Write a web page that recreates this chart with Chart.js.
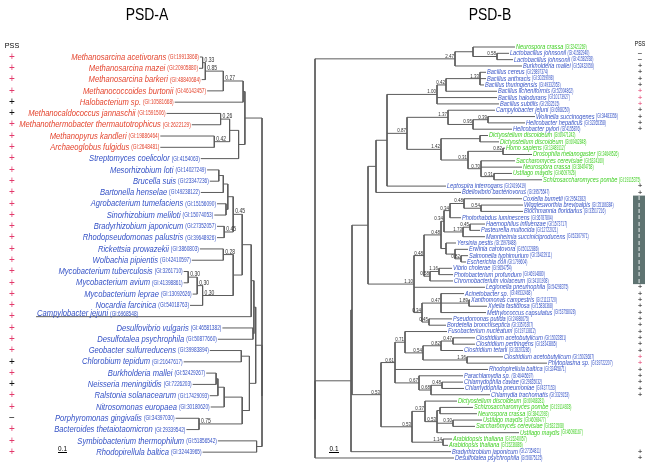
<!DOCTYPE html>
<html>
<head>
<meta charset="utf-8">
<script src="https://cdn.jsdelivr.net/npm/chart.js@4"></script>
<style>html,body{margin:0;padding:0;background:#fff}</style>
</head>
<body>
<canvas id="myChart" width="648" height="465" style="width:648px;height:465px"></canvas>
<script>
// ---- PSD-A (left tree) ----
const leftNames = [
    'Methanosarcina acetivorans', 'Methanosarcina mazei', 'Methanosarcina barkeri',
    'Methanococcoides burtonii', 'Halobacterium sp.', 'Methanocaldococcus jannaschii',
    'Methanothermobacter thermautotrophicus', 'Methanopyrus kandleri', 'Archaeoglobus fulgidus',
    'Streptomyces coelicolor', 'Mesorhizobium loti', 'Brucella suis', 'Bartonella henselae',
    'Agrobacterium tumefaciens', 'Sinorhizobium meliloti', 'Bradyrhizobium japonicum',
    'Rhodopseudomonas palustris', 'Rickettsia prowazekii', 'Wolbachia pipientis',
    'Mycobacterium tuberculosis', 'Mycobacterium avium', 'Mycobacterium leprae',
    'Nocardia farcinica', 'Campylobacter jejuni', 'Desulfovibrio vulgaris',
    'Desulfotalea psychrophila', 'Geobacter sulfurreducens', 'Chlorobium tepidum',
    'Burkholderia mallei', 'Neisseria meningitidis', 'Ralstonia solanacearum',
    'Nitrosomonas europaea', 'Porphyromonas gingivalis', 'Bacteroides thetaiotaomicron',
    'Symbiobacterium thermophilum', 'Rhodopirellula baltica'
];
const leftGI = [
    '19913868', '20905880', '48840684', '46142457', '10581668', '1591506', '2622129',
    '19886464', '2648481', '4154063', '14027249', '23347236', '49238122', '15156090',
    '15074053', '27352057', '39648926', '3860803', '42410597', '3261710', '41398861',
    '13092626', '54018763', '6968548', '46581382', '50877660', '39983894', '21647617',
    '52429267', '7226203', '17429093', '30180620', '34397030', '29339542', '51856542',
    '32443965'
];
// A = archaea (red), B = bacteria (blue)
const leftDomain = ['A','A','A','A','A','A','A','A','A','B','B','B','B','B','B','B','B','B',
    'B','B','B','B','B','B','B','B','B','B','B','B','B','B','B','B','B','B'];
// R = red plus, K = black plus, M = minus
const leftPss = ['R','R','R','R','K','K','R','R','R','R','R','R','R','R','R','R','R','R',
    'R','R','R','R','R','R','R','R','R','K','R','K','R','R','M','R','R','R'];
// tip distance from root
const leftTip = [0.69, 0.70, 0.67, 0.61, 0.97, 1.06, 0.78, 1.13, 1.13, 0.68, 0.61, 0.58,
    0.68, 0.50, 0.53, 0.50, 0.50, 0.69, 0.78, 0.87, 0.87, 0.77, 0.80, 2.51, 0.44, 0.49,
    0.58, 0.87, 0.62, 0.77, 0.58, 0.57, 0.96, 0.84, 0.49, 0.66];
const leftLabelAbove = [23];
// newick-like: (children)support:depth from root, leaves are row numbers
const leftTree =
    '((((((0,1)0.33:0.66,2)0.85:0.63,3)0.27:0.43,4):0.21,' +
    '(((5,6)0.26:0.46,(7,8)0.42:0.53):0.36,9):0.26):0.19,' +
    '((((((((((10,11):0.48,12):0.43,(13,14):0.40):0.38,(15,16)0.45:0.42)0.45:0.32,' +
    '((17,18)0.28:0.43,(((19,20)0.30:0.82,21)0.30:0.72,22)0.30:0.66):0.32):0.22,23):0.12,' +
    '(24,25):0.10):0.09,' +
    '((26,27):0.23,((((28,29):0.51,30):0.49,31):0.42,(32,33)0.75:0.70):0.22):0.14):0.07,' +
    '(34,35):0.06):0):0';

// ---- PSD-B (right tree) ----
const rightNames = [
    'Neurospora crassa', 'Lactobacillus johnsonii', 'Lactobacillus johnsonii',
    'Burkholderia mallei', 'Bacillus cereus', 'Bacillus anthracis', 'Bacillus thuringiensis',
    'Bacillus licheniformis', 'Bacillus halodurans', 'Bacillus subtilis', 'Campylobacter jejuni',
    'Wolinella succinogenes', 'Helicobacter hepaticus', 'Helicobacter pylori',
    'Dictyostelium discoideum', 'Dictyostelium discoideum', 'Homo sapiens',
    'Drosophila melanogaster', 'Saccharomyces cerevisiae', 'Neurospora crassa',
    'Ustilago maydis', 'Schizosaccharomyces pombe', 'Leptospira interrogans',
    'Bdellovibrio bacteriovorus', 'Coxiella burnetii', 'Wigglesworthia brevipalpis',
    'Blochmannia floridanus', 'Photorhabdus luminescens', 'Haemophilus influenzae',
    'Pasteurella multocida', 'Mannheimia succiniciproducens', 'Yersinia pestis',
    'Erwinia carotovora', 'Salmonella typhimurium', 'Escherichia coli', 'Vibrio cholerae',
    'Photobacterium profundum', 'Chromobacterium violaceum', 'Legionella pneumophila',
    'Acinetobacter sp.', 'Xanthomonas campestris', 'Xylella fastidiosa',
    'Methylococcus capsulatus', 'Pseudomonas putida', 'Bordetella bronchiseptica',
    'Fusobacterium nucleatum', 'Clostridium acetobutylicum', 'Clostridium perfringens',
    'Clostridium tetani', 'Clostridium acetobutylicum', 'Phytoplasma sp.',
    'Rhodopirellula baltica', 'Parachlamydia sp.', 'Chlamydophila caviae',
    'Chlamydophila pneumoniae', 'Chlamydia trachomatis', 'Dictyostelium discoideum',
    'Schizosaccharomyces pombe', 'Neurospora crassa', 'Ustilago maydis',
    'Saccharomyces cerevisiae', 'Ustilago maydis', 'Arabidopsis thaliana',
    'Arabidopsis thaliana', 'Bradyrhizobium japonicum', 'Desulfotalea psychrophila'
];
const rightGI = [
    '32421269', '41582940', '41582938', '52432056', '29897374', '30259098', '49332053',
    '52004862', '10173927', '2632515', '6968250', '34483356', '32265358', '4155876',
    '60471242', '60462848', '13489112', '24649526', '6324160', '38404768', '46097926',
    '19115375', '24196419', '39575547', '29542382', '25166384', '33517216', '36787804',
    '1573717', '12722021', '52307971', '15978488', '50122886', '16422911', '1799604',
    '9654754', '46914880', '34101908', '54298375', '49532468', '21113720', '15836368',
    '53758028', '24986675', '33576307', '19713812', '15022851', '18143865', '28203286',
    '15023687', '39722207', '32445871', '46445697', '29835032', '4377153', '3329153',
    '60468281', '19114928', '38412093', '46098477', '6321508', '46098167', '15240057',
    '15236886', '27354811', '50875125'
];
// E = eukaryote (green), B = bacteria (blue)
const rightDomain = ['E','B','B','B','B','B','B','B','B','B','B','B','B','B',
    'E','E','E','E','E','E','E','E','B','B','B','B','B','B','B','B','B','B','B','B','B',
    'B','B','B','B','B','B','B','B','B','B','B','B','B','B','B','B','B','B','B','B','B',
    'E','E','E','E','E','E','E','E','B','B'];
// I = boxed group
const rightPss = ['','M','M','K','K','K','K','R','R','R','K','K','K','K',
    '','','','','','','','','K','K','I','I','I','I','I','I','I','I','I','I','I','I','I',
    'I','K','K','K','K','K','K','K','K','K','K','K','R','R','K','K','K','K','K',
    '','','','','','','','','K','K'];
const rightTip = [2.00, 1.94, 1.98, 2.07, 1.71, 1.71, 1.69, 1.82, 1.82, 1.84, 1.80, 2.20,
    2.10, 1.97, 1.73, 1.84, 1.90, 2.17, 2.00, 2.07, 1.97, 2.27, 1.31, 1.46, 2.07, 2.08,
    2.08, 1.46, 1.70, 1.65, 1.70, 1.41, 1.53, 1.53, 1.51, 1.37, 1.38, 1.38, 1.70, 1.49,
    1.55, 1.72, 1.71, 1.37, 1.31, 1.32, 1.60, 1.60, 1.48, 1.88, 2.32, 1.73, 1.48, 1.48,
    1.49, 1.75, 1.42, 1.58, 1.62, 1.67, 1.60, 2.04, 1.37, 1.33, 1.36, 1.39];
const rightTree =
    '((((0,(1,2)0.58:1.82):1.58,3)2.47:1.40,' +
    '(((((((((((4,5,6)1.33:1.65,7)0.42:1.31,8,9)1.00:1.22,' +
    '((10,((11,12)0.39:1.73,13)0.95:1.58)1.37:1.33,' +
    '((14,15):1.65,((16,17)0.82:1.88,(18,19,(20,21)0.31:1.79)0.70:1.66)0.31:1.53)1.42:1.26)0.87:0.92,' +
    '22):0.72,23):0.61,' +
    '((((((24,(25,26)0.54:1.66)0.48:1.49,27)0.34:1.35,((28,29)0.45:1.55,30)1.73:1.48)0.34:1.29,' +
    '(31,(32,(33,34)0.82:1.46):1.40):1.31)0.48:1.26,((35,36)1.16:1.24,37)0.58:1.15)0.48:1.09,' +
    '38,((39,(40,41)1.89:1.54,42)0.47:1.26,(43,44)0.45:1.14)0.34:1.07)1.10:0.99):0.53,' +
    '(((45,(((46,47)0.47:1.38,48)0.82:1.26,(49,50)1.36:1.52)0.54:1.08)0.71:0.90,51,' +
    '(52,((53,54)0.48:1.27,55)0.68:1.16)0.67:1.04)0.61:0.80,' +
    '((56,((57,58):1.25,(59,60)0.30:1.38,61)0.53:1.22)0.37:1.10,(62,63)1.14:1.28)0.53:0.97)0.53:0.66' +
    '):0.37,64):0.36,65):0):0';

const scaleBar = 0.1;

// ---- layout ----
const W = 648, H = 465;
const LT = { rootPx: 262, pxPerUnit: 90, rowTop: 57, rowStep: 11.29 };
const RT = { rootPx: 315, pxPerUnit: 100, rowTop: 47, rowStep: 6.323 };
const colors = { A: '#e4452f', B: '#3552c6', E: '#3fcf22', R: '#e3396b', K: '#111', M: '#111' };
const lineColor = '#5c5c5c';

function parseTree(s) {
    let i = 0;
    function node() {
        if (s[i] === '(') {
            i++;
            const kids = [node()];
            while (s[i] === ',') { i++; kids.push(node()); }
            i++;
            let label = '';
            while (i < s.length && /[0-9.]/.test(s[i])) label += s[i++];
            let num = '';
            if (s[i] === ':') { i++; while (i < s.length && /[0-9.]/.test(s[i])) num += s[i++]; }
            return { kids: kids, label: label, depth: parseFloat(num) || 0 };
        }
        let num = '';
        while (i < s.length && /[0-9]/.test(s[i])) num += s[i++];
        return { leaf: parseInt(num, 10) };
    }
    return node();
}

function layout(n, tips, inner) {
    if (n.kids === undefined) { n.x = tips[n.leaf]; n.y = n.leaf; return n; }
    n.kids.forEach(k => layout(k, tips, inner));
    const ys = n.kids.map(k => k.y);
    n.x = n.depth;
    n.y = (Math.min(...ys) + Math.max(...ys)) / 2;
    inner.push(n);
    return n;
}

function branchPoints(inner) {
    const pts = [];
    inner.forEach(n => {
        const ys = n.kids.map(k => k.y);
        pts.push({ x: n.x, y: Math.min(...ys) }, { x: n.x, y: Math.max(...ys) }, { x: n.x, y: null });
        n.kids.forEach(k => {
            pts.push({ x: k.x, y: k.y }, { x: n.x, y: k.y }, { x: n.x, y: null });
        });
    });
    return pts;
}

const leftInner = [];
layout(parseTree(leftTree), leftTip, leftInner);
const rightInner = [];
layout(parseTree(rightTree), rightTip, rightInner);

function txt(ctx, str, x, y, font, color, align, sx, base) {
    ctx.save();
    ctx.font = font;
    ctx.fillStyle = color;
    ctx.textBaseline = base || 'middle';
    ctx.textAlign = 'left';
    const w = ctx.measureText(str).width * sx;
    const x0 = align === 'right' ? x - w : (align === 'center' ? x - w / 2 : x);
    ctx.translate(x0, y);
    ctx.scale(sx, 1);
    ctx.fillText(str, 0, 0);
    ctx.restore();
    return w;
}

const treeText = {
    id: 'treeText',
    afterDatasetsDraw(chart) {
        const ctx = chart.ctx;
        const xL = chart.scales.xL, yL = chart.scales.yL, xR = chart.scales.xR, yR = chart.scales.yR;
        const sans = '"Liberation Sans", Arial, sans-serif';

        // titles and headers
        txt(ctx, 'PSD-A', 147, 15, '17px ' + sans, '#000', 'center', 0.82);
        txt(ctx, 'PSD-B', 490, 15, '17px ' + sans, '#000', 'center', 0.82);
        txt(ctx, 'PSS', 12, 46, '8px ' + sans, '#000', 'center', 0.9);
        txt(ctx, 'PSS', 640, 44, '6.5px ' + sans, '#000', 'center', 0.8);

        // left leaves
        leftNames.forEach((name, i) => {
            const px = xL.getPixelForValue(leftTip[i]);
            const py = yL.getPixelForValue(i);
            const c = colors[leftDomain[i]];
            const gi = '(GI:' + leftGI[i] + ')';
            if (leftLabelAbove.includes(i)) {
                const w = txt(ctx, name, px + 1, py - 1, 'italic 9.5px ' + sans, c, 'left', 0.8, 'alphabetic');
                txt(ctx, gi, px + 1 + w + 2, py - 1, '7px ' + sans, c, 'left', 0.68, 'alphabetic');
            } else {
                const wg = txt(ctx, gi, px - 1, py, '7px ' + sans, c, 'right', 0.68);
                txt(ctx, name, px - 1 - wg - 2, py, 'italic 9.5px ' + sans, c, 'right', 0.8);
            }
            const s = leftPss[i];
            if (s) txt(ctx, s === 'M' ? '\u2212' : '+', 12, py, '10px ' + sans, colors[s], 'center', 1);
        });
        leftInner.forEach(n => {
            if (n.label) txt(ctx, n.label, xL.getPixelForValue(n.x) + 2, yL.getPixelForValue(n.y) - 1,
                '7px ' + sans, '#333', 'left', 0.72, 'alphabetic');
        });

        // right leaves
        rightNames.forEach((name, i) => {
            const px = xR.getPixelForValue(rightTip[i]) + 1;
            const py = yR.getPixelForValue(i);
            const c = colors[rightDomain[i]];
            const w = txt(ctx, name, px, py, 'italic 7px ' + sans, c, 'left', 0.8);
            txt(ctx, '(GI:' + rightGI[i] + ')', px + w + 1.5, py, '6.5px ' + sans, c, 'left', 0.52);
        });
        rightInner.forEach(n => {
            if (n.label) txt(ctx, n.label, xR.getPixelForValue(n.x) - 1, yR.getPixelForValue(n.y) - 1,
                '6px ' + sans, '#333', 'right', 0.75, 'alphabetic');
        });

        // right PSS column with boxed group
        const boxed = rightPss.map((s, i) => s === 'I' ? i : -1).filter(i => i >= 0);
        if (boxed.length) {
            const top = yR.getPixelForValue(boxed[0] - 0.5);
            const bot = yR.getPixelForValue(boxed[boxed.length - 1] + 0.5);
            ctx.fillStyle = '#5e7371';
            ctx.fillRect(633, top, 12, bot - top);
        }
        rightPss.forEach((s, i) => {
            const py = yR.getPixelForValue(i);
            if (s === 'I') txt(ctx, 'I', 639, py, 'bold 6px ' + sans, '#e8eeee', 'center', 1);
            else if (s) txt(ctx, s === 'M' ? '\u2212' : '+', 640, py, '8px ' + sans, colors[s], 'center', 1);
        });

        // scale bars
        ctx.strokeStyle = '#000';
        ctx.lineWidth = 1;
        const lLen = Math.abs(xL.getPixelForValue(scaleBar) - xL.getPixelForValue(0));
        ctx.beginPath(); ctx.moveTo(58, 452.5); ctx.lineTo(58 + lLen, 452.5); ctx.stroke();
        txt(ctx, String(scaleBar), 58 + lLen / 2, 451, '8px ' + sans, '#000', 'center', 0.8, 'alphabetic');
        const rLen = Math.abs(xR.getPixelForValue(scaleBar) - xR.getPixelForValue(0));
        ctx.beginPath(); ctx.moveTo(329, 452.5); ctx.lineTo(329 + rLen, 452.5); ctx.stroke();
        txt(ctx, String(scaleBar), 329 + rLen / 2, 451, '8px ' + sans, '#000', 'center', 0.8, 'alphabetic');
    }
};

const data = {
    datasets: [
        {
            label: 'PSD-A',
            data: branchPoints(leftInner),
            xAxisID: 'xL',
            yAxisID: 'yL',
            showLine: true,
            spanGaps: false,
            borderColor: lineColor,
            borderWidth: 1,
            pointRadius: 0,
        },
        {
            label: 'PSD-B',
            data: branchPoints(rightInner),
            xAxisID: 'xR',
            yAxisID: 'yR',
            showLine: true,
            spanGaps: false,
            borderColor: lineColor,
            borderWidth: 1,
            pointRadius: 0,
        }
    ]
};

const config = {
    type: 'scatter',
    data: data,
    options: {
        responsive: false,
        animation: false,
        layout: { padding: 0 },
        plugins: { legend: { display: false }, tooltip: { enabled: false }, title: { display: false } },
        scales: {
            xL: { type: 'linear', display: false, reverse: true,
                  min: -(W - LT.rootPx) / LT.pxPerUnit, max: LT.rootPx / LT.pxPerUnit },
            yL: { type: 'linear', display: false, reverse: true,
                  min: -LT.rowTop / LT.rowStep, max: (H - LT.rowTop) / LT.rowStep },
            xR: { type: 'linear', display: false,
                  min: -RT.rootPx / RT.pxPerUnit, max: (W - RT.rootPx) / RT.pxPerUnit },
            yR: { type: 'linear', display: false, reverse: true,
                  min: -RT.rowTop / RT.rowStep, max: (H - RT.rowTop) / RT.rowStep }
        }
    },
    plugins: [treeText]
};

const myChart = new Chart(document.getElementById('myChart'), config);
</script>
</body>
</html>
